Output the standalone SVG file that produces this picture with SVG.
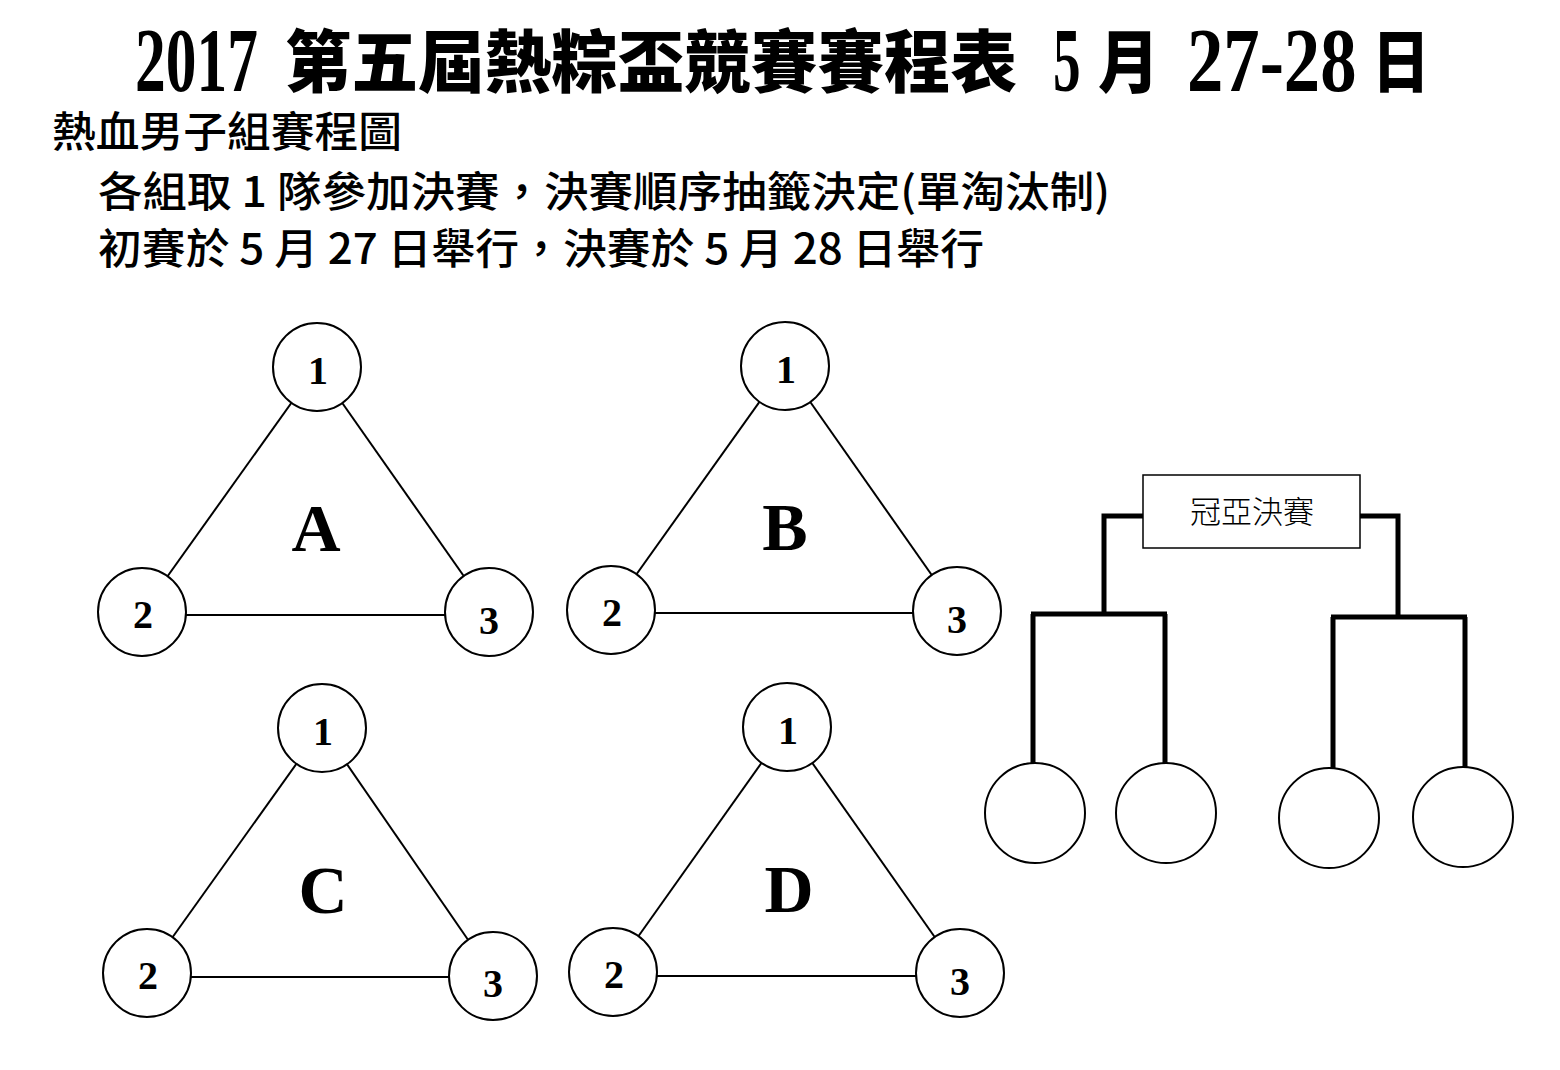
<svg xmlns="http://www.w3.org/2000/svg" width="1560" height="1070" viewBox="0 0 1560 1070">
<style>
.bg{fill:#fff}
.tnum{font-family:'Liberation Serif',serif;font-weight:bold;font-size:92px;fill:#000}
.tcjk{font-family:'Noto Sans CJK TC','Noto Sans CJK SC',sans-serif;font-weight:900;font-size:68px;fill:#000}
.sub{font-family:'Noto Sans CJK TC','Noto Sans CJK SC',sans-serif;font-weight:500;font-size:42px;fill:#000}
.node circle{fill:#fff;stroke:#000;stroke-width:2}
.num{font-family:'Liberation Serif',serif;font-weight:bold;font-size:40px;fill:#000;text-anchor:middle}
.letter{font-family:'Liberation Serif',serif;font-weight:bold;font-size:68px;fill:#000;text-anchor:middle}
.edge{stroke:#000;stroke-width:2;fill:none}
.br{stroke:#000;stroke-width:5;fill:none}
.box rect{fill:#fff;stroke:#000;stroke-width:1.5}
.boxt{font-family:'Liberation Serif','Noto Sans CJK TC',serif;font-weight:300;font-size:31px;fill:#000;text-anchor:middle}
</style>
<rect class="bg" x="0" y="0" width="1560" height="1070"/>

<g id="title">
<text class="tnum" transform="matrix(0.668 0 0 1 135 91)">2017</text>
<text class="tcjk" transform="matrix(0.979 0 0 1 285 87)">第五屆熱粽盃競賽賽程表</text>
<text class="tnum" transform="matrix(0.6 0 0 1 1053 91)">5</text>
<text class="tcjk" transform="matrix(0.9 0 0 1 1098 87)">月</text>
<text class="tnum" transform="matrix(0.79 0 0 1 1187 91)">27-28</text>
<text class="tcjk" transform="matrix(0.85 0 0 1 1372 87)">日</text>
</g>

<g id="subtitles">
<text class="sub" x="52" y="147" textLength="350" lengthAdjust="spacingAndGlyphs">熱血男子組賽程圖</text>
<text class="sub" x="98" y="207" font-size="40" textLength="1012" lengthAdjust="spacingAndGlyphs">各組取 1 隊參加決賽，決賽順序抽籤決定(單淘汰制)</text>
<text class="sub" x="98" y="264" font-size="40" textLength="886" lengthAdjust="spacingAndGlyphs">初賽於 5 月 27 日舉行，決賽於 5 月 28 日舉行</text>
</g>

<g id="connectors">
<!-- group A -->
<line class="edge" x1="317" y1="367" x2="142" y2="612"/>
<line class="edge" x1="317" y1="367" x2="489" y2="612"/>
<line class="edge" x1="142" y1="615" x2="489" y2="615"/>
<!-- group B -->
<line class="edge" x1="785" y1="366" x2="611" y2="610"/>
<line class="edge" x1="785" y1="366" x2="957" y2="611"/>
<line class="edge" x1="611" y1="613" x2="957" y2="613"/>
<!-- group C -->
<line class="edge" x1="322" y1="728" x2="147" y2="973"/>
<line class="edge" x1="322" y1="728" x2="493" y2="976"/>
<line class="edge" x1="147" y1="977" x2="493" y2="977"/>
<!-- group D -->
<line class="edge" x1="787" y1="727" x2="613" y2="972"/>
<line class="edge" x1="787" y1="727" x2="960" y2="973"/>
<line class="edge" x1="613" y1="976" x2="960" y2="976"/>
<!-- bracket -->
<path class="br" d="M1143,516 H1104 V614"/>
<path class="br" d="M1031,614 H1167"/>
<path class="br" d="M1033,614 V764"/>
<path class="br" d="M1165,614 V765"/>
<path class="br" d="M1360,516 H1398 V617"/>
<path class="br" d="M1331,617 H1467"/>
<path class="br" d="M1333,617 V768"/>
<path class="br" d="M1465,617 V767"/>
</g>

<g id="group-A" class="node">
<g id="A1"><circle cx="317" cy="367" r="44"/><text class="num" x="318" y="384">1</text></g>
<g id="A2"><circle cx="142" cy="612" r="44"/><text class="num" x="143" y="628">2</text></g>
<g id="A3"><circle cx="489" cy="612" r="44"/><text class="num" x="489" y="634">3</text></g>
<text class="letter" x="316" y="551">A</text>
</g>

<g id="group-B" class="node">
<g id="B1"><circle cx="785" cy="366" r="44"/><text class="num" x="786" y="383">1</text></g>
<g id="B2"><circle cx="611" cy="610" r="44"/><text class="num" x="612" y="626">2</text></g>
<g id="B3"><circle cx="957" cy="611" r="44"/><text class="num" x="957" y="633">3</text></g>
<text class="letter" x="785" y="550">B</text>
</g>

<g id="group-C" class="node">
<g id="C1"><circle cx="322" cy="728" r="44"/><text class="num" x="323" y="745">1</text></g>
<g id="C2"><circle cx="147" cy="973" r="44"/><text class="num" x="148" y="989">2</text></g>
<g id="C3"><circle cx="493" cy="976" r="44"/><text class="num" x="493" y="997">3</text></g>
<text class="letter" x="323" y="913">C</text>
</g>

<g id="group-D" class="node">
<g id="D1"><circle cx="787" cy="727" r="44"/><text class="num" x="788" y="744">1</text></g>
<g id="D2"><circle cx="613" cy="972" r="44"/><text class="num" x="614" y="988">2</text></g>
<g id="D3"><circle cx="960" cy="973" r="44"/><text class="num" x="960" y="995">3</text></g>
<text class="letter" x="789" y="912">D</text>
</g>

<g id="final" class="box">
<rect x="1143" y="475" width="217" height="73"/>
<text class="boxt" x="1252" y="523">冠亞決賽</text>
</g>

<g id="slot-1" class="node"><circle cx="1035" cy="813" r="50"/></g>
<g id="slot-2" class="node"><circle cx="1166" cy="813" r="50"/></g>
<g id="slot-3" class="node"><circle cx="1329" cy="818" r="50"/></g>
<g id="slot-4" class="node"><circle cx="1463" cy="817" r="50"/></g>
</svg>
